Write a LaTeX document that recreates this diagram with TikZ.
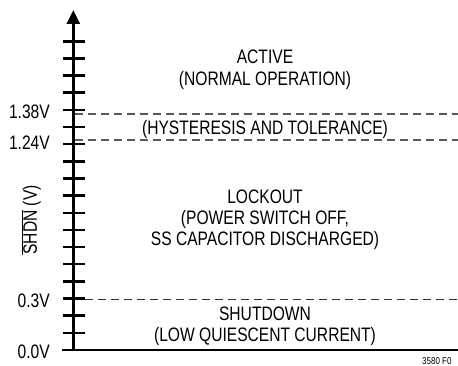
\documentclass[tikz,border=0pt]{standalone}
\usepackage{fontspec}
\setmainfont[FakeStretch=0.80]{Liberation Sans}
\usetikzlibrary{arrows.meta}
\newcommand{\ovl}[1]{$\overline{\hbox{#1}}$}

\begin{document}
\begin{tikzpicture}[x=1pt, y=-1pt,
		etiq/.style={font=\fontsize{19.5}{20}\selectfont, inner sep=0pt},
		zona/.style={font=\fontsize{19.5}{20}\selectfont, inner sep=0pt, anchor=base},
		umbral/.style={draw=black!65, line width=1.2pt, dash pattern=on 8pt off 5pt}]
	\useasboundingbox (0,0) rectangle (458,366);
	% ejes
	\coordinate (o)   at (73.3,351.4);
	\coordinate (top) at (73.3,10);
	\coordinate (x0)  at (62,350);
	\coordinate (x1)  at (458,350);
	\draw[line width=2.8pt] (x0) -- (x1);
	\draw[line width=2.8pt, -{Triangle[length=14pt,width=13pt]}] (o) -- (top);
	\foreach \k in {1,...,18}
		\draw[line width=2.5pt] (62.5,{350-17.15*\k}) -- (85,{350-17.15*\k});
	% umbrales
	\coordinate (a1) at (75,114);   \coordinate (b1) at (458,114);
	\coordinate (a2) at (75,140);   \coordinate (b2) at (458,140);
	\coordinate (a3) at (85,299);   \coordinate (b3) at (458,299);
	\draw[umbral] (a1) -- (b1);
	\draw[umbral] (a2) -- (b2);
	\draw[umbral, draw=black!80, line width=1pt] (a3) -- (b3);
	% etiquetas del eje
	\node[etiq, anchor=east] (v138) at (50,112) {1.38V};
	\node[etiq, anchor=east] (v124) at (50,143) {1.24V};
	\node[etiq, anchor=east] (v03)  at (50,301) {0.3V};
	\node[etiq, anchor=east] (v00)  at (50,352) {0.0V};
	\node[etiq, rotate=90] (ylab) at (31,220) {\ovl{SHDN} (V)};
	% zonas
	\node[zona] (act1)  at (265,64)  {ACTIVE};
	\node[zona] (act2)  at (265,86)  {(NORMAL OPERATION)};
	\node[zona] (hist)  at (265,134.5) {(HYSTERESIS AND TOLERANCE)};
	\node[zona] (lock1) at (265,203.5) {LOCKOUT};
	\node[zona] (lock2) at (265,224.5) {(POWER SWITCH OFF,};
	\node[zona] (lock3) at (265,245.5) {SS CAPACITOR DISCHARGED)};
	\node[zona] (shd1)  at (265,320.5) {SHUTDOWN};
	\node[zona] (shd2)  at (265,341.5) {(LOW QUIESCENT CURRENT)};
	\node[font=\fontsize{10}{10}\selectfont, inner sep=0pt, anchor=west] (fig) at (422,361) {3580 F0};
\end{tikzpicture}
\end{document}
